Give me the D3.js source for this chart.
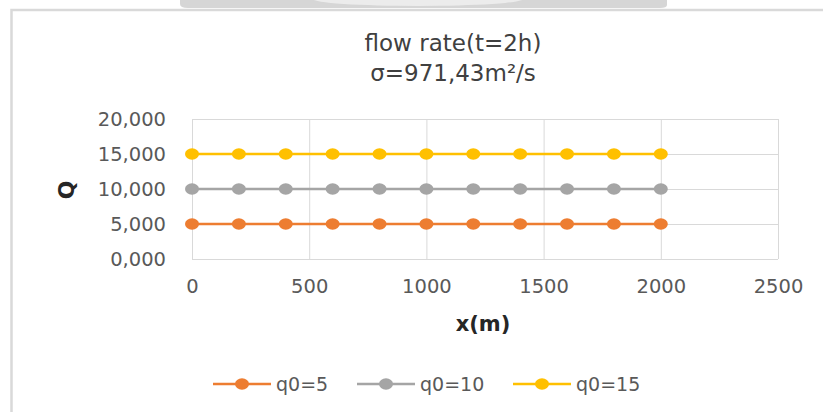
<!DOCTYPE html>
<html>
<head>
<meta charset="utf-8">
<script src="https://cdn.jsdelivr.net/npm/d3@7"></script>
<style>
  html, body { margin: 0; padding: 0; background: #ffffff; }
  svg { display: block; }
  text { font-family: "DejaVu Sans", sans-serif; }
</style>
</head>
<body>
<svg id="chart" width="823" height="412"></svg>
<script>
// ---- data ----
const xValues = [0, 200, 400, 600, 800, 1000, 1200, 1400, 1600, 1800, 2000];
const seriesNames = ["q0=5", "q0=10", "q0=15"];
const q5  = [5, 5, 5, 5, 5, 5, 5, 5, 5, 5, 5];
const q10 = [10, 10, 10, 10, 10, 10, 10, 10, 10, 10, 10];
const q15 = [15, 15, 15, 15, 15, 15, 15, 15, 15, 15, 15];
const seriesColors = ["#ED7D31", "#A5A5A5", "#FFC000"];
const yTickValues = [0, 5, 10, 15, 20];
const yTickLabels = ["0,000", "5,000", "10,000", "15,000", "20,000"];
const xTickValues = [0, 500, 1000, 1500, 2000, 2500];
const titleLines = ["flow rate(t=2h)", "\u03C3=971,43m\u00B2/s"];
const xTitle = "x(m)";
const yTitle = "Q";

const series = [q5, q10, q15].map((vals, i) => ({
  name: seriesNames[i],
  color: seriesColors[i],
  points: vals.map((v, j) => ({ x: xValues[j], y: v }))
}));

const svg = d3.select("#chart");

// ---- background strip / frame ----
svg.append("path")
  .attr("d", "M180,0 L667,0 L667,5 Q667,8 660,8 L188,8 Q180,8 180,4 Z")
  .attr("fill", "#d6d6d6");
svg.append("ellipse")
  .attr("cx", 418).attr("cy", -1).attr("rx", 105).attr("ry", 7)
  .attr("fill", "#ececec");
svg.append("path")
  .attr("d", "M11.5,412 L11.5,10 L823,10")
  .attr("fill", "none").attr("stroke", "#d9d9d9").attr("stroke-width", 2.5);

// ---- scales ----
const x = d3.scaleLinear().domain([0, 2500]).range([192, 778]);
const y = d3.scaleLinear().domain([0, 20]).range([259, 119]);

// ---- title ----
svg.append("g").selectAll("text").data(titleLines).join("text")
  .attr("x", 453)
  .attr("y", (d, i) => 51 + i * 30)
  .attr("text-anchor", "middle")
  .attr("font-size", 23)
  .attr("fill", "#404040")
  .text(d => d);

// ---- gridlines ----
svg.append("g")
  .attr("transform", "translate(0,259)")
  .call(d3.axisBottom(x).tickValues(xTickValues).tickSize(-140).tickFormat(""))
  .call(g => g.select(".domain").remove())
  .call(g => g.selectAll("line").attr("stroke", "#d9d9d9").attr("stroke-width", 1));

svg.append("g")
  .attr("transform", "translate(192,0)")
  .call(d3.axisLeft(y).tickValues(yTickValues).tickSize(-586).tickFormat(""))
  .call(g => g.select(".domain").remove())
  .call(g => g.selectAll("line").attr("stroke", "#d9d9d9").attr("stroke-width", 1));

// ---- axis labels ----
const yAxis = svg.append("g")
  .attr("transform", "translate(192,0)")
  .call(d3.axisLeft(y).tickValues(yTickValues).tickSize(0).tickPadding(26)
    .tickFormat((d, i) => yTickLabels[i]));
yAxis.select(".domain").remove();
yAxis.selectAll("text")
  .attr("font-family", "DejaVu Sans, sans-serif")
  .attr("font-size", 19.5)
  .attr("fill", "#595959");

const xAxis = svg.append("g")
  .attr("transform", "translate(0,259)")
  .call(d3.axisBottom(x).tickValues(xTickValues).tickSize(0).tickPadding(20)
    .tickFormat(d3.format("d")));
xAxis.select(".domain").remove();
xAxis.selectAll("text")
  .attr("font-family", "DejaVu Sans, sans-serif")
  .attr("font-size", 19.5)
  .attr("fill", "#595959");

// axis titles
svg.append("text")
  .attr("x", 483).attr("y", 331)
  .attr("text-anchor", "middle")
  .attr("font-size", 21)
  .attr("font-weight", "bold")
  .attr("fill", "#262626")
  .text(xTitle);

svg.append("text")
  .attr("transform", "translate(74,190) rotate(-90)")
  .attr("text-anchor", "middle")
  .attr("font-size", 22)
  .attr("font-weight", "bold")
  .attr("fill", "#262626")
  .text(yTitle);

// ---- series ----
const line = d3.line().x(d => x(d.x)).y(d => y(d.y));
const sg = svg.append("g").selectAll("g").data(series).join("g");
sg.append("path")
  .attr("d", d => line(d.points))
  .attr("fill", "none")
  .attr("stroke", d => d.color)
  .attr("stroke-width", 2.6);
sg.selectAll("ellipse").data(d => d.points.map(p => ({ ...p, color: d.color }))).join("ellipse")
  .attr("cx", d => x(d.x)).attr("cy", d => y(d.y))
  .attr("rx", 7).attr("ry", 5.8)
  .attr("fill", d => d.color);

// ---- legend ----
const legendX = [213, 357, 513];
const lg = svg.append("g").selectAll("g").data(series).join("g")
  .attr("transform", (d, i) => `translate(${legendX[i]},384)`);
lg.append("line")
  .attr("x1", 0).attr("x2", 58).attr("y1", 0).attr("y2", 0)
  .attr("stroke", d => d.color).attr("stroke-width", 2.6);
lg.append("ellipse")
  .attr("cx", 29).attr("cy", 0).attr("rx", 7).attr("ry", 5.8)
  .attr("fill", d => d.color);
lg.append("text")
  .attr("x", 63).attr("y", 0).attr("dy", "0.35em")
  .attr("font-size", 19)
  .attr("fill", "#595959")
  .text(d => d.name);
</script>
</body>
</html>
